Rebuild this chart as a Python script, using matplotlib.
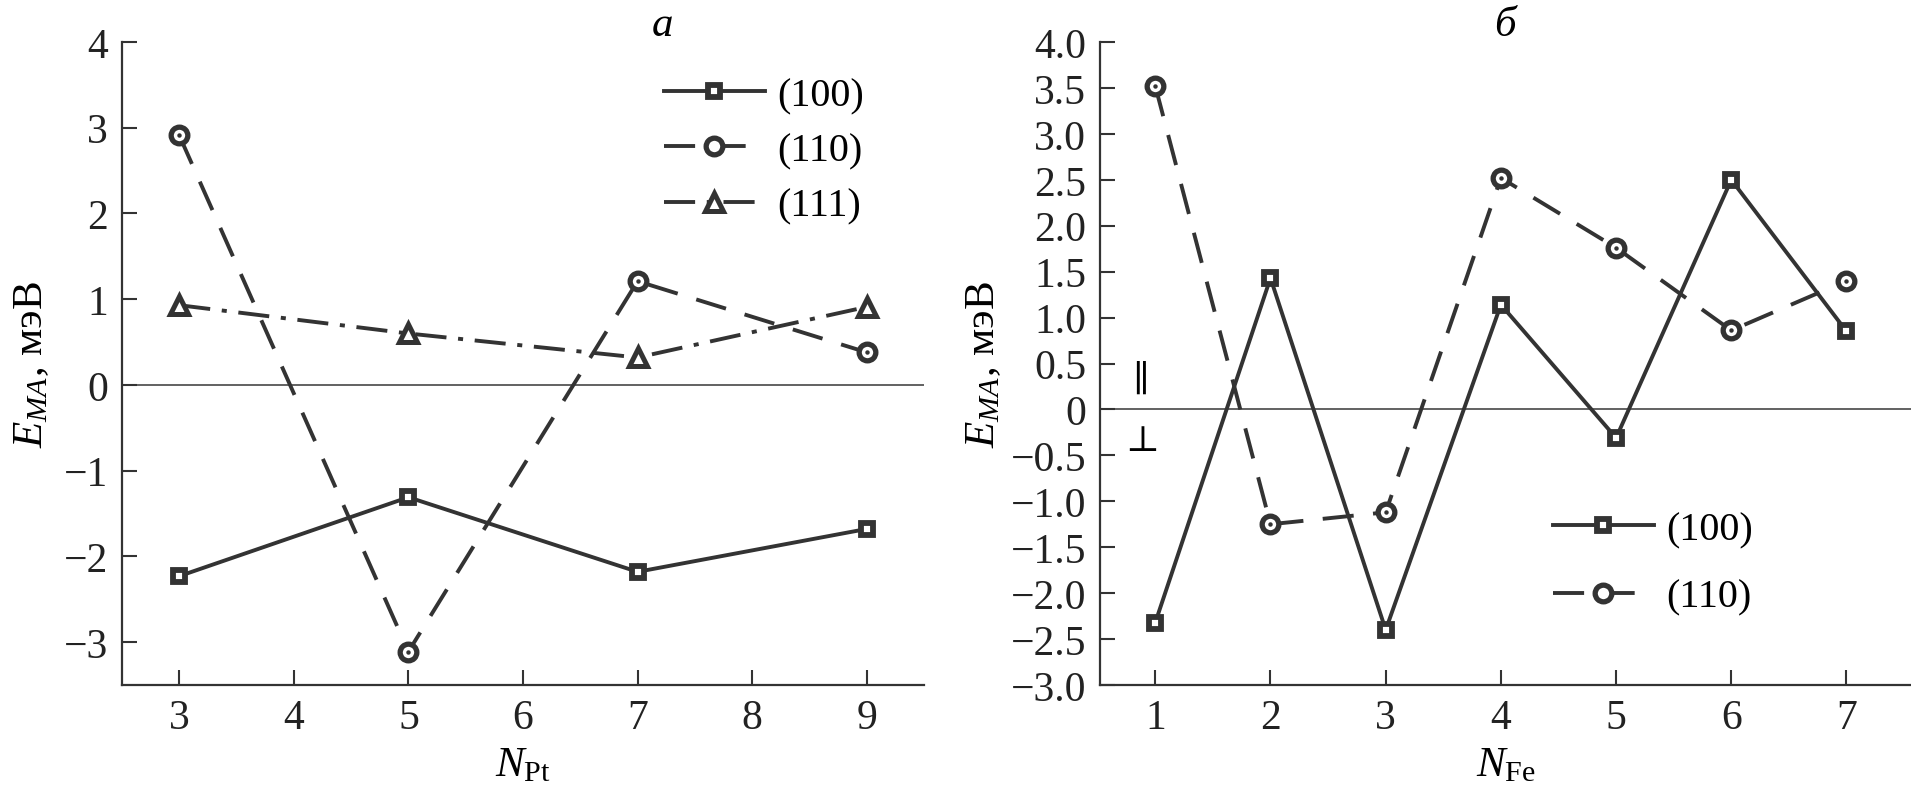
import matplotlib
matplotlib.use("Agg")
import matplotlib.pyplot as plt

# панель а
n_pt = [3, 5, 7, 9]
pt_100 = [-2.23, -1.31, -2.18, -1.68]
pt_110 = [2.91, -3.11, 1.21, 0.38]
pt_111 = [0.93, 0.60, 0.32, 0.91]

# панель б
n_fe = [1, 2, 3, 4, 5, 6, 7]
fe_100 = [-2.32, 1.43, -2.40, 1.14, -0.31, 2.50, 0.85]
fe_110 = [3.52, -1.25, -1.12, 2.52, 1.76, 0.86, 1.40]

fe_yticks = [-3.0, -2.5, -2.0, -1.5, -1.0, -0.5, 0, 0.5, 1.0, 1.5, 2.0, 2.5, 3.0, 3.5, 4.0]
fe_ylabels = ["−3.0", "−2.5", "−2.0", "−1.5", "−1.0", "−0.5", "0", "0.5", "1.0",
              "1.5", "2.0", "2.5", "3.0", "3.5", "4.0"]

plt.rcParams["font.family"] = "serif"
plt.rcParams["font.serif"] = ["Liberation Serif", "DejaVu Serif"]
plt.rcParams["mathtext.fontset"] = "custom"
plt.rcParams["mathtext.rm"] = "Liberation Serif"
plt.rcParams["mathtext.it"] = "Liberation Serif:italic"

C = "#333333"
W, H = 1911, 804

fig = plt.figure(figsize=(W / 100, H / 100), dpi=100)


def px_axes(x0, y0, x1, y1):
    return fig.add_axes([x0 / W, 1 - y1 / H, (x1 - x0) / W, (y1 - y0) / H])


def style(ax):
    for s in ["top", "right"]:
        ax.spines[s].set_visible(False)
    for s in ["left", "bottom"]:
        ax.spines[s].set_linewidth(1.6)
        ax.spines[s].set_color(C)
    ax.tick_params(direction="in", length=11, width=1.5, color=C,
                   labelsize=30, labelcolor="#222222", pad=10)
    ax.axhline(0, color="#555555", lw=1.3, zorder=1)


LW = 2.8
sq = dict(marker="s", ms=8.5, mew=4.2, mfc="white", mec=C)
ci = dict(marker="o", ms=12, mew=3.8, mfc="white", mec=C)
tr = dict(marker="^", ms=12.5, mew=3.6, mfc="white", mec=C)
dot = dict(marker="o", ms=3.2, mew=0, mfc=C, ls="none")

ax1 = px_axes(122, 43, 924, 686)
style(ax1)
l1, = ax1.plot(n_pt, pt_100, color=C, lw=LW, ls="-", **sq)
l2, = ax1.plot(n_pt, pt_110, color=C, lw=LW, ls=(0, (8, 5)), **ci)
ax1.plot(n_pt, pt_110, **dot)
l3, = ax1.plot(n_pt, pt_111, color=C, lw=LW, ls=(0, (8, 3, 1.3, 3)), **tr)
ax1.set_xlim(2.5, 9.5)
ax1.set_ylim(-3.5, 4)
ax1.set_xticks(range(3, 10))
ax1.set_yticks(range(-3, 5))
ax1.set_ylabel(r"$E_{MA}$, мэВ", fontsize=31, labelpad=9)
ax1.set_xlabel(r"$N_{\mathrm{Pt}}$", fontsize=31, labelpad=6)
ax1.legend([l1, l2, l3], ["(100)", "(110)", "(111)"], loc="upper left",
           bbox_to_anchor=((664 - 122) / 802, 1 - (78 - 43) / 643),
           frameon=False, fontsize=29, handlelength=2.5, handletextpad=0.3,
           labelspacing=0.45, borderpad=0, borderaxespad=0)

ax2 = px_axes(1100, 43, 1911, 686)
style(ax2)
m1, = ax2.plot(n_fe, fe_100, color=C, lw=LW, ls="-", **sq)
m2, = ax2.plot(n_fe, fe_110, color=C, lw=LW, ls=(0, (8, 5)), **ci)
ax2.plot(n_fe, fe_110, **dot)
ax2.set_xlim(0.52, 7.56)
ax2.set_ylim(-3, 4)
ax2.set_xticks(n_fe)
ax2.set_yticks(fe_yticks)
ax2.set_yticklabels(fe_ylabels)
ax2.set_ylabel(r"$E_{MA}$, мэВ", fontsize=31, labelpad=5)
ax2.set_xlabel(r"$N_{\mathrm{Fe}}$", fontsize=31, labelpad=6)
ax2.legend([m1, m2], ["(100)", "(110)"], loc="upper left",
           bbox_to_anchor=((1553 - 1100) / 811, 1 - (512 - 43) / 643),
           frameon=False, fontsize=29, handlelength=2.5, handletextpad=0.3,
           labelspacing=0.75, borderpad=0, borderaxespad=0)

fig.text(662 / W, 1 - 26 / H, "а", fontsize=31, style="italic", ha="center", va="center")
fig.text(1505 / W, 1 - 26 / H, "б", fontsize=31, style="italic", ha="center", va="center")
fig.text(1141 / W, 1 - 381 / H, "∥", fontsize=26, ha="center", va="center",
         family=["DejaVu Serif"])
fig.text(1142 / W, 1 - 441 / H, "⊥", fontsize=26, ha="center", va="center",
         family=["DejaVu Serif"])

fig.savefig("out.png", dpi=100)
